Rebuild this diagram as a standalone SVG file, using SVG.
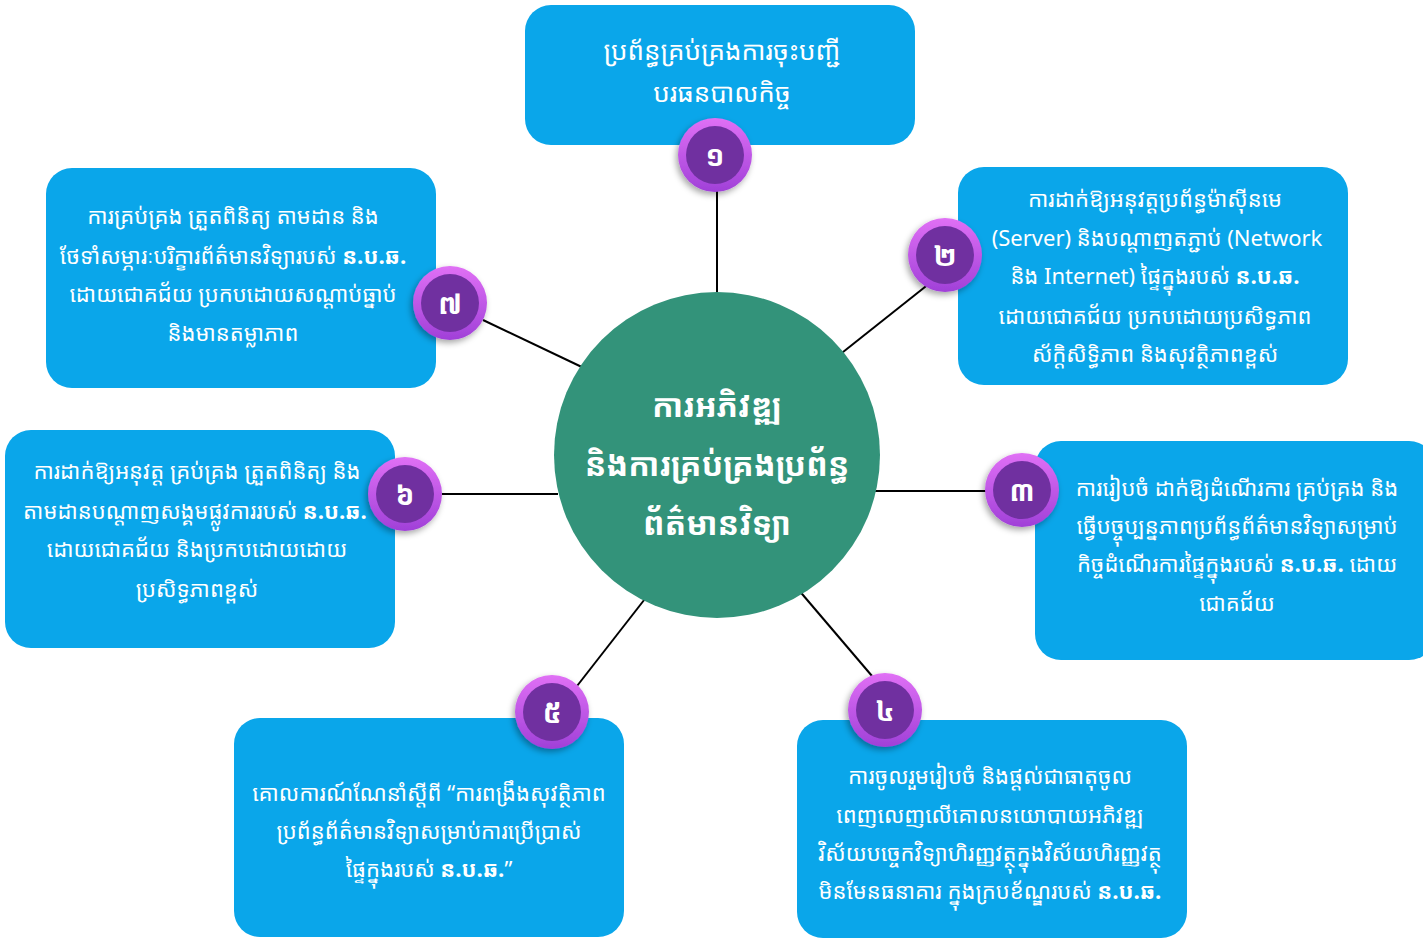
<svg xmlns="http://www.w3.org/2000/svg" width="1423" height="945" viewBox="0 0 1423 945">
<defs>
<style>
.box{fill:#0aa6ea;}
.t{fill:#ffffff;font-family:"Noto Sans Khmer","Khmer OS","Noto Sans","DejaVu Sans",sans-serif;font-size:22px;text-anchor:middle;dominant-baseline:central;}
.big{font-size:26px;}
.b{font-weight:bold;}
.ct{fill:#ffffff;font-family:"Noto Sans Khmer","Khmer OS","Noto Sans","DejaVu Sans",sans-serif;font-size:32px;font-weight:bold;text-anchor:middle;dominant-baseline:central;}
.num{fill:#ffffff;font-family:"Noto Sans Khmer","Khmer OS","Noto Sans","DejaVu Sans",sans-serif;font-size:28px;font-weight:bold;text-anchor:middle;dominant-baseline:central;}
.ring{fill:url(#ringG);filter:url(#sh);}
.core{fill:#7030a0;}
.con line{stroke:#000;stroke-width:2;}
</style>
<linearGradient id="ringG" x1="0" y1="0" x2="0" y2="1">
<stop offset="0" stop-color="#e070f5"/>
<stop offset="1" stop-color="#a040d8"/>
</linearGradient>
<filter id="sh" x="-30%" y="-30%" width="160%" height="160%">
<feDropShadow dx="-2" dy="3" stdDeviation="3" flood-color="#000" flood-opacity="0.35"/>
</filter>
</defs>
<rect width="1423" height="945" fill="#ffffff"/>
<g id="connectors" class="con">
<line x1="717" y1="190" x2="717" y2="302"/>
<line x1="930" y1="283" x2="838" y2="356"/>
<line x1="483" y1="320" x2="586" y2="369"/>
<line x1="442" y1="494" x2="558" y2="494"/>
<line x1="870" y1="491" x2="987" y2="491"/>
<line x1="577" y1="686" x2="648" y2="595"/>
<line x1="797" y1="588" x2="872" y2="676"/>
</g>
<g id="center">
<circle cx="717" cy="455" r="163" fill="#33937a"/>
<text class="ct" x="717" y="404">ការអភិវឌ្ឍ</text>
<text class="ct" x="717" y="463">និងការគ្រប់គ្រងប្រព័ន្ធ</text>
<text class="ct" x="717" y="522">ព័ត៌មានវិទ្យា</text>
</g>
<g id="node1">
<rect class="box" x="525" y="5" width="390" height="140" rx="26"/>
<text class="t big" x="722" y="50">ប្រព័ន្ធគ្រប់គ្រងការចុះបញ្ជី</text>
<text class="t big" x="722" y="92">បរធនបាលកិច្ច</text>
<circle class="ring" cx="715" cy="155" r="37"/>
<circle class="core" cx="715" cy="155" r="29"/>
<text class="num" x="715" y="155">១</text>
</g>
<g id="node2">
<rect class="box" x="958" y="167" width="390" height="218" rx="26"/>
<text class="t" x="1155" y="198">ការដាក់ឱ្យអនុវត្តប្រព័ន្ធម៉ាស៊ីនមេ</text>
<text class="t" x="1157" y="237">(Server) និងបណ្តាញតភ្ជាប់ (Network</text>
<text class="t" x="1155" y="275">និង Internet) ផ្ទៃក្នុងរបស់ <tspan class="b">ន.ប.ឆ.</tspan></text>
<text class="t" x="1155" y="315">ដោយជោគជ័យ ប្រកបដោយប្រសិទ្ធភាព</text>
<text class="t" x="1155" y="353">ស័ក្តិសិទ្ធិភាព និងសុវត្ថិភាពខ្ពស់</text>
<circle class="ring" cx="945" cy="255" r="37"/>
<circle class="core" cx="945" cy="255" r="29"/>
<text class="num" x="945" y="255">២</text>
</g>
<g id="node3">
<rect class="box" x="1035" y="441" width="400" height="219" rx="26"/>
<text class="t" x="1237" y="487">ការរៀបចំ ដាក់ឱ្យដំណើរការ គ្រប់គ្រង និង</text>
<text class="t" x="1237" y="525">ធ្វើបច្ចុប្បន្នភាពប្រព័ន្ធព័ត៌មានវិទ្យាសម្រាប់</text>
<text class="t" x="1237" y="563">កិច្ចដំណើរការផ្ទៃក្នុងរបស់ <tspan class="b">ន.ប.ឆ.</tspan> ដោយ</text>
<text class="t" x="1237" y="602">ជោគជ័យ</text>
<circle class="ring" cx="1022" cy="490" r="37"/>
<circle class="core" cx="1022" cy="490" r="29"/>
<text class="num" x="1022" y="490">៣</text>
</g>
<g id="node4">
<rect class="box" x="797" y="720" width="390" height="218" rx="26"/>
<text class="t" x="990" y="775">ការចូលរួមរៀបចំ និងផ្តល់ជាធាតុចូល</text>
<text class="t" x="990" y="814">ពេញលេញលើគោលនយោបាយអភិវឌ្ឍ</text>
<text class="t" x="990" y="852">វិស័យបច្ចេកវិទ្យាហិរញ្ញវត្ថុក្នុងវិស័យហិរញ្ញវត្ថុ</text>
<text class="t" x="990" y="890">មិនមែនធនាគារ ក្នុងក្របខ័ណ្ឌរបស់ <tspan class="b">ន.ប.ឆ.</tspan></text>
<circle class="ring" cx="885" cy="710" r="37"/>
<circle class="core" cx="885" cy="710" r="29"/>
<text class="num" x="885" y="710">៤</text>
</g>
<g id="node5">
<rect class="box" x="234" y="718" width="390" height="219" rx="26"/>
<text class="t" x="429" y="792">គោលការណ៍ណែនាំស្តីពី “ការពង្រឹងសុវត្ថិភាព</text>
<text class="t" x="429" y="830">ប្រព័ន្ធព័ត៌មានវិទ្យាសម្រាប់ការប្រើប្រាស់</text>
<text class="t" x="429" y="868">ផ្ទៃក្នុងរបស់ <tspan class="b">ន.ប.ឆ.</tspan>”</text>
<circle class="ring" cx="552" cy="712" r="37"/>
<circle class="core" cx="552" cy="712" r="29"/>
<text class="num" x="552" y="712">៥</text>
</g>
<g id="node6">
<rect class="box" x="5" y="430" width="390" height="218" rx="26"/>
<text class="t" x="197" y="470">ការដាក់ឱ្យអនុវត្ត គ្រប់គ្រង ត្រួតពិនិត្យ និង</text>
<text class="t" x="195" y="510">តាមដានបណ្តាញសង្គមផ្លូវការរបស់ <tspan class="b">ន.ប.ឆ.</tspan></text>
<text class="t" x="197" y="548">ដោយជោគជ័យ និងប្រកបដោយដោយ</text>
<text class="t" x="197" y="588">ប្រសិទ្ធភាពខ្ពស់</text>
<circle class="ring" cx="405" cy="494" r="37"/>
<circle class="core" cx="405" cy="494" r="29"/>
<text class="num" x="405" y="494">៦</text>
</g>
<g id="node7">
<rect class="box" x="46" y="168" width="390" height="220" rx="26"/>
<text class="t" x="233" y="215">ការគ្រប់គ្រង ត្រួតពិនិត្យ តាមដាន និង</text>
<text class="t" x="233" y="255">ថែទាំសម្ភារៈបរិក្ខារព័ត៌មានវិទ្យារបស់ <tspan class="b">ន.ប.ឆ.</tspan></text>
<text class="t" x="233" y="293">ដោយជោគជ័យ ប្រកបដោយសណ្តាប់ធ្នាប់</text>
<text class="t" x="233" y="332">និងមានតម្លាភាព</text>
<circle class="ring" cx="450" cy="303" r="37"/>
<circle class="core" cx="450" cy="303" r="29"/>
<text class="num" x="450" y="303">៧</text>
</g>
</svg>
